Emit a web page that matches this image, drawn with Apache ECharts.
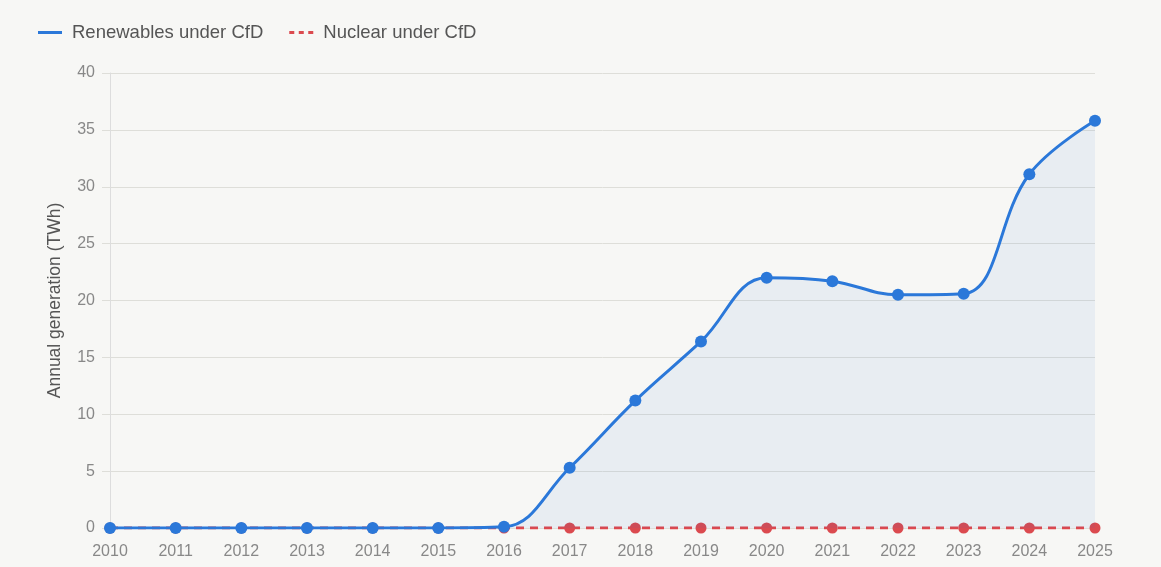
<!DOCTYPE html>
<html>
<head>
<meta charset="utf-8">
<script src="https://cdn.jsdelivr.net/npm/echarts@6/dist/echarts.min.js"></script>
<style>
html, body { margin: 0; padding: 0; background: #f7f7f5; }
#chart { width: 1161px; height: 567px; }
</style>
</head>
<body>
<div id="chart"></div>
<script>
// annual generation, TWh
var years = ['2010','2011','2012','2013','2014','2015','2016','2017','2018','2019','2020','2021','2022','2023','2024','2025'];
var renewables = [0, 0, 0, 0, 0, 0, 0.1, 5.3, 11.2, 16.4, 22.0, 21.7, 20.5, 20.6, 31.1, 35.8];
var nuclear = [0, 0, 0, 0, 0, 0, 0, 0, 0, 0, 0, 0, 0, 0, 0, 0];

var myChart = echarts.init(document.getElementById('chart'));
var option = {
    backgroundColor: '#f7f7f5',
    textStyle: { fontFamily: '"Liberation Sans", Arial, sans-serif' },
    legend: {
        left: 33, top: 18,
        itemWidth: 24, itemHeight: 10, itemGap: 26,
        textStyle: { color: '#555', fontSize: 18.5, padding: [0, 0, 0, 5] },
        data: [
            { name: 'Renewables under CfD', icon: 'path://M0,4 L24,4 L24,7 L0,7 Z' },
            { name: 'Nuclear under CfD', icon: 'path://M0,4 L5,4 L5,7 L0,7 Z M9.5,4 L14.5,4 L14.5,7 L9.5,7 Z M19,4 L24,4 L24,7 L19,7 Z' }
        ]
    },
    grid: { left: 110, right: 66, top: 73, bottom: 39 },
    xAxis: {
        type: 'category',
        data: years,
        boundaryGap: false,
        axisLine: { show: false },
        axisTick: { show: false },
        axisLabel: { color: '#888', fontSize: 16, margin: 16 }
    },
    yAxis: {
        type: 'value',
        min: 0, max: 40, interval: 5,
        name: 'Annual generation (TWh)',
        nameLocation: 'middle',
        nameGap: 46,
        nameTextStyle: { color: '#555', fontSize: 17.5 },
        axisLine: { show: true, lineStyle: { color: '#ddd' } },
        axisTick: { show: true, length: 8, lineStyle: { color: '#deded9' } },
        axisLabel: { color: '#888', fontSize: 16, margin: 15 },
        splitLine: { lineStyle: { color: '#deded9' } }
    },
    series: [
        {
            name: 'Nuclear under CfD',
            type: 'line',
            data: nuclear,
            symbol: 'circle', symbolSize: 11,
            itemStyle: { color: '#db4a4f' },
            lineStyle: { color: '#e0474c', width: 3, type: [8, 6] },
            z: 2
        },
        {
            name: 'Renewables under CfD',
            type: 'line',
            data: renewables,
            smooth: 0.4,
            symbol: 'circle', symbolSize: 12,
            itemStyle: { color: '#2b78d9' },
            lineStyle: { color: '#2b78d9', width: 3 },
            areaStyle: { color: 'rgba(43,120,217,0.1)' },
            z: 3
        }
    ]
};
myChart.setOption(option);
</script>
</body>
</html>
